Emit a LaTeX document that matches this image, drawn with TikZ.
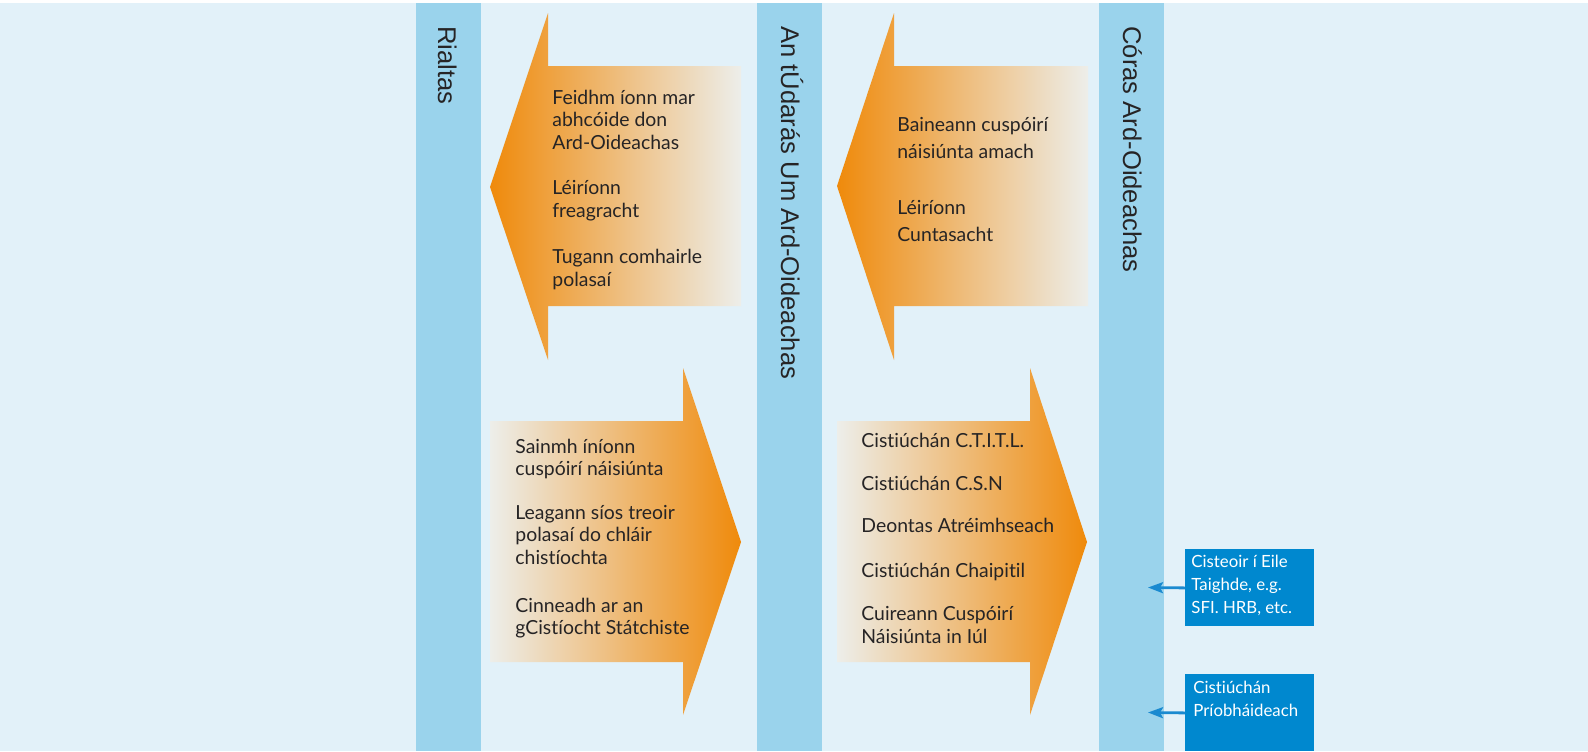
\documentclass[tikz,border=0pt]{standalone}
\usepackage{fontspec}
\setmainfont{Lato}[Ligatures=NoCommon]
\newfontfamily\barfont{Liberation Sans}
\usetikzlibrary{arrows.meta}

\definecolor{bgblue}{HTML}{E2F1F9}
\definecolor{barblue}{HTML}{9AD3EC}
\definecolor{arrorange}{HTML}{EF8A0B}
\definecolor{arrpale}{HTML}{EDEEEA}
\definecolor{boxblue}{HTML}{0088CF}
\definecolor{linkblue}{HTML}{1A8AD0}
\definecolor{txtdark}{HTML}{262425}

\tikzset{
  bartext/.style={font=\barfont\fontsize{12.8}{15}\selectfont, text=txtdark, rotate=-90, anchor=base west, inner sep=0pt},
  arrtext/.style={font=\fontsize{9.7}{11.25}\selectfont, text=txtdark, align=left, anchor=base west, inner sep=0pt},
  fundbox/.style={fill=boxblue, minimum width=64.5pt, minimum height=38.5pt, anchor=north west, inner sep=0pt},
  fundtext/.style={font=\fontsize{8.4}{11.5}\selectfont, text=white, align=left, anchor=base west, inner sep=0pt},
  fundarrow/.style={draw=linkblue, line width=1.4pt, -{Stealth[length=7.5pt,width=5.5pt,inset=1.5pt]}}
}

\begin{document}
\begin{tikzpicture}[x=0.5pt,y=-0.5pt]
\useasboundingbox (0,0) rectangle (1588,751);
\fill[white] (0,0) rectangle (1588,751);
\fill[bgblue] (0,3) rectangle (1588,751);

\fill[barblue] (416,3) rectangle (481,751);
\fill[barblue] (757,3) rectangle (822,751);
\fill[barblue] (1099,3) rectangle (1164,751);

\node[bartext] (rialtas) at (438,26) {Rialtas};
\node[bartext] (udaras) at (781,26) {An tÚdarás Um Ard-Oideachas};
\node[bartext] (coras) at (1123,26) {Córas Ard-Oideachas};

\shade[left color=arrorange, right color=arrpale] (490,187) -- (548,13) -- (548,66) -- (741,66)
  -- (741,306) -- (548,306) -- (548,360) -- cycle;
\shade[left color=arrorange, right color=arrpale] (837,186) -- (894,13) -- (894,66) -- (1088,66)
  -- (1088,306) -- (894,306) -- (894,360) -- cycle;
\shade[left color=arrpale, right color=arrorange] (490,421) -- (683,421) -- (683,368) -- (741,542)
  -- (683,715) -- (683,662) -- (490,662) -- cycle;
\shade[left color=arrpale, right color=arrorange] (837,421) -- (1030,421) -- (1030,368) -- (1087,542)
  -- (1030,715) -- (1030,662) -- (837,662) -- cycle;

\node[arrtext] (ul1) at (552,149) {Feidhm íonn mar\\abhcóide don\\Ard-Oideachas};
\node[arrtext] (ul2) at (552,217) {Léiríonn\\freagracht};
\node[arrtext] (ul3) at (552,286) {Tugann comhairle\\polasaí};

\node[arrtext, font=\fontsize{9.7}{13.5}\selectfont] (ur1) at (897,158) {Baineann cuspóirí\\náisiúnta amach};
\node[arrtext, font=\fontsize{9.7}{13.5}\selectfont] (ur2) at (897,241) {Léiríonn\\Cuntasacht};

\node[arrtext, font=\fontsize{9.7}{11}\selectfont] (ll1) at (515,475) {Sainmh íníonn\\cuspóirí náisiúnta};
\node[arrtext, font=\fontsize{9.7}{11.25}\selectfont] (ll2) at (515,564) {Leagann síos treoir\\polasaí do chláir\\chistíochta};
\node[arrtext, font=\fontsize{9.7}{11}\selectfont] (ll3) at (515,634) {Cinneadh ar an\\gCistíocht Státchiste};

\node[arrtext] (lr1) at (861,447) {Cistiúchán C.T.I.T.L.};
\node[arrtext] (lr2) at (861,490) {Cistiúchán C.S.N};
\node[arrtext] (lr3) at (861,532) {Deontas Atréimhseach};
\node[arrtext] (lr4) at (861,577) {Cistiúchán Chaipitil};
\node[arrtext, font=\fontsize{9.7}{11.5}\selectfont] (lr5) at (861,643) {Cuireann Cuspóirí\\Náisiúnta in Iúl};

\node[fundbox] (box1) at (1185,549) {};
\node[fundbox] (box2) at (1185,674) {};
\node[fundtext] (box1t) at (1191,613) {Cisteoir í Eile\\Taighde, e.g.\\SFI. HRB, etc.};
\node[fundtext] (box2t) at (1193,716) {Cistiúchán\\Príobháideach};

\coordinate (in1) at (1148,587.5);
\coordinate (in2) at (1148,712.5);
\draw[fundarrow] (box1.west) -- (in1);
\draw[fundarrow] (box2.west) -- (in2);
\end{tikzpicture}
\end{document}
